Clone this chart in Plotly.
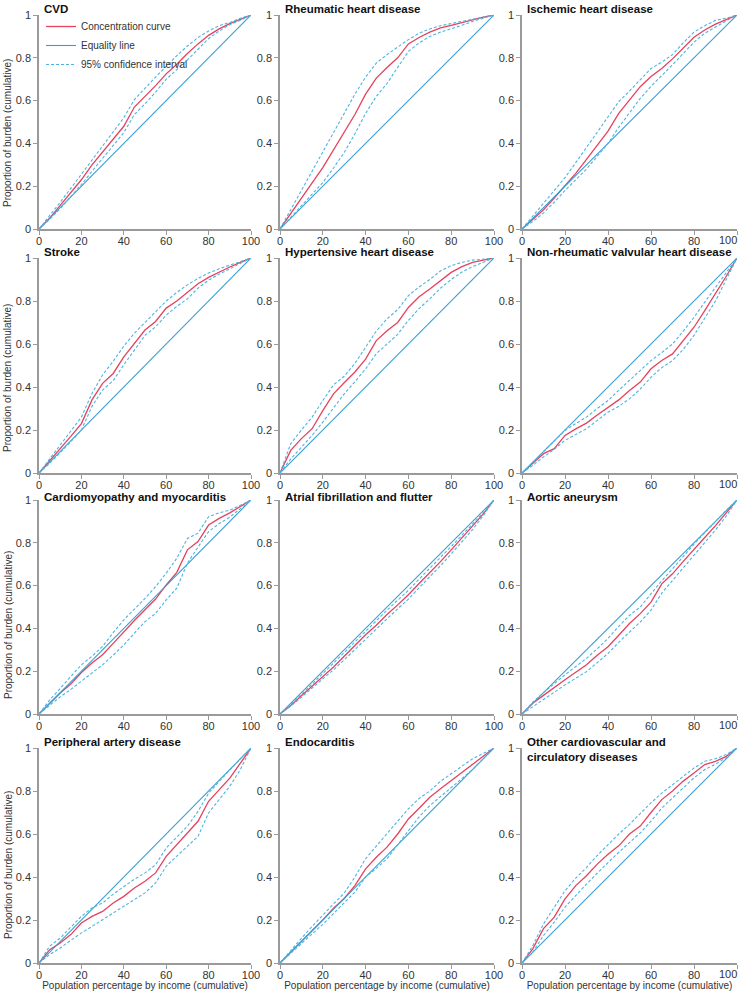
import plotly.graph_objects as go

# income percentile (x) shared by every panel
PCT = [0, 5, 10, 15, 20, 25, 30, 35, 40, 45, 50, 55, 60, 65, 70, 75, 80, 85, 90, 95, 100]
X_TICKS = [0, 20, 40, 60, 80, 100]

TITLES = ["CVD", "Rheumatic heart disease", "Ischemic heart disease",
          "Stroke", "Hypertensive heart disease", "Non-rheumatic valvular heart disease",
          "Cardiomyopathy and myocarditis", "Atrial fibrillation and flutter", "Aortic aneurysm",
          "Peripheral artery disease", "Endocarditis", "Other cardiovascular and<br>circulatory diseases"]

# concentration curve (cc) with upper (hi) / lower (lo) 95% CI
CVD_CC = [0, 0.05, 0.11, 0.17, 0.23, 0.30, 0.36, 0.42, 0.48, 0.57, 0.62, 0.67, 0.725, 0.77, 0.82, 0.865, 0.905, 0.935, 0.96, 0.98, 1]
CVD_HI = [0, 0.06, 0.125, 0.19, 0.255, 0.32, 0.39, 0.455, 0.52, 0.605, 0.66, 0.71, 0.76, 0.81, 0.855, 0.895, 0.925, 0.95, 0.965, 0.985, 1]
CVD_LO = [0, 0.045, 0.095, 0.15, 0.207, 0.27, 0.33, 0.39, 0.45, 0.535, 0.585, 0.64, 0.70, 0.745, 0.79, 0.84, 0.89, 0.925, 0.955, 0.975, 1]

RHD_CC = [0, 0.07, 0.14, 0.215, 0.287, 0.37, 0.45, 0.535, 0.63, 0.705, 0.755, 0.80, 0.865, 0.895, 0.92, 0.94, 0.952, 0.965, 0.978, 0.99, 1]
RHD_HI = [0, 0.09, 0.18, 0.27, 0.357, 0.45, 0.54, 0.63, 0.71, 0.775, 0.815, 0.85, 0.885, 0.915, 0.935, 0.95, 0.96, 0.97, 0.98, 0.99, 1]
RHD_LO = [0, 0.055, 0.11, 0.16, 0.217, 0.285, 0.357, 0.445, 0.54, 0.62, 0.68, 0.755, 0.83, 0.87, 0.9, 0.92, 0.935, 0.952, 0.97, 0.985, 1]

IHD_CC = [0, 0.045, 0.09, 0.145, 0.2, 0.26, 0.325, 0.39, 0.457, 0.54, 0.605, 0.665, 0.713, 0.75, 0.795, 0.845, 0.896, 0.93, 0.957, 0.978, 1]
IHD_HI = [0, 0.06, 0.115, 0.175, 0.24, 0.31, 0.38, 0.45, 0.52, 0.595, 0.645, 0.70, 0.75, 0.78, 0.815, 0.87, 0.92, 0.95, 0.975, 0.985, 1]
IHD_LO = [0, 0.035, 0.075, 0.125, 0.18, 0.23, 0.28, 0.34, 0.40, 0.475, 0.54, 0.61, 0.667, 0.715, 0.767, 0.82, 0.873, 0.915, 0.945, 0.972, 1]

STR_CC = [0, 0.055, 0.113, 0.17, 0.23, 0.34, 0.417, 0.463, 0.54, 0.60, 0.665, 0.705, 0.767, 0.80, 0.84, 0.88, 0.91, 0.935, 0.958, 0.98, 1]
STR_HI = [0, 0.065, 0.13, 0.195, 0.26, 0.37, 0.456, 0.52, 0.59, 0.65, 0.70, 0.75, 0.80, 0.84, 0.875, 0.905, 0.93, 0.95, 0.967, 0.985, 1]
STR_LO = [0, 0.045, 0.095, 0.145, 0.2, 0.31, 0.386, 0.43, 0.503, 0.57, 0.64, 0.68, 0.735, 0.775, 0.81, 0.86, 0.897, 0.925, 0.95, 0.975, 1]

HHD_CC = [0, 0.105, 0.16, 0.206, 0.29, 0.368, 0.42, 0.47, 0.53, 0.616, 0.662, 0.70, 0.77, 0.82, 0.856, 0.895, 0.933, 0.96, 0.98, 0.99, 1]
HHD_HI = [0, 0.136, 0.2, 0.26, 0.337, 0.41, 0.45, 0.51, 0.585, 0.66, 0.717, 0.76, 0.825, 0.865, 0.90, 0.94, 0.964, 0.98, 0.99, 0.995, 1]
HHD_LO = [0, 0.065, 0.12, 0.175, 0.237, 0.305, 0.368, 0.425, 0.484, 0.555, 0.60, 0.645, 0.71, 0.765, 0.81, 0.86, 0.90, 0.935, 0.96, 0.98, 1]

NRV_CC = [0, 0.045, 0.09, 0.113, 0.175, 0.205, 0.232, 0.27, 0.306, 0.34, 0.384, 0.423, 0.485, 0.523, 0.554, 0.616, 0.678, 0.755, 0.833, 0.915, 1]
NRV_HI = [0, 0.05, 0.1, 0.15, 0.198, 0.23, 0.26, 0.3, 0.337, 0.385, 0.43, 0.475, 0.523, 0.56, 0.60, 0.66, 0.724, 0.795, 0.864, 0.935, 1]
NRV_LO = [0, 0.035, 0.075, 0.11, 0.152, 0.18, 0.206, 0.245, 0.283, 0.31, 0.345, 0.39, 0.446, 0.49, 0.523, 0.575, 0.64, 0.72, 0.80, 0.9, 1]

CMM_CC = [0, 0.05, 0.098, 0.14, 0.194, 0.238, 0.277, 0.33, 0.386, 0.437, 0.487, 0.537, 0.603, 0.662, 0.767, 0.806, 0.883, 0.914, 0.94, 0.97, 1]
CMM_HI = [0, 0.065, 0.12, 0.175, 0.23, 0.27, 0.316, 0.38, 0.44, 0.49, 0.54, 0.595, 0.658, 0.728, 0.82, 0.845, 0.922, 0.94, 0.953, 0.975, 1]
CMM_LO = [0, 0.04, 0.08, 0.115, 0.152, 0.19, 0.23, 0.275, 0.323, 0.378, 0.432, 0.47, 0.533, 0.588, 0.705, 0.78, 0.852, 0.89, 0.92, 0.96, 1]

AFF_CC = [0, 0.04, 0.085, 0.13, 0.176, 0.22, 0.27, 0.32, 0.37, 0.415, 0.465, 0.51, 0.557, 0.61, 0.66, 0.712, 0.767, 0.822, 0.877, 0.935, 1]
AFF_HI = [0, 0.045, 0.092, 0.14, 0.188, 0.237, 0.287, 0.337, 0.387, 0.435, 0.485, 0.532, 0.578, 0.63, 0.68, 0.73, 0.783, 0.835, 0.888, 0.942, 1]
AFF_LO = [0, 0.036, 0.078, 0.12, 0.163, 0.207, 0.253, 0.302, 0.352, 0.397, 0.445, 0.49, 0.537, 0.59, 0.64, 0.693, 0.748, 0.805, 0.862, 0.927, 1]

AAN_CC = [0, 0.05, 0.087, 0.125, 0.16, 0.195, 0.23, 0.275, 0.314, 0.368, 0.423, 0.469, 0.523, 0.608, 0.655, 0.713, 0.771, 0.825, 0.88, 0.94, 1]
AAN_HI = [0, 0.055, 0.1, 0.143, 0.183, 0.222, 0.26, 0.305, 0.353, 0.41, 0.461, 0.5, 0.562, 0.623, 0.678, 0.737, 0.794, 0.847, 0.9, 0.952, 1]
AAN_LO = [0, 0.035, 0.07, 0.103, 0.136, 0.167, 0.198, 0.24, 0.283, 0.335, 0.384, 0.43, 0.485, 0.565, 0.624, 0.683, 0.74, 0.8, 0.86, 0.925, 1]

PAD_CC = [0, 0.062, 0.093, 0.132, 0.186, 0.217, 0.24, 0.279, 0.31, 0.349, 0.38, 0.419, 0.496, 0.55, 0.605, 0.659, 0.752, 0.806, 0.86, 0.93, 1]
PAD_HI = [0, 0.078, 0.116, 0.165, 0.217, 0.256, 0.279, 0.32, 0.357, 0.39, 0.419, 0.457, 0.535, 0.585, 0.636, 0.705, 0.79, 0.845, 0.9, 0.95, 1]
PAD_LO = [0, 0.039, 0.07, 0.105, 0.14, 0.17, 0.2, 0.23, 0.264, 0.295, 0.326, 0.372, 0.45, 0.497, 0.543, 0.589, 0.698, 0.76, 0.822, 0.9, 1]

END_CC = [0, 0.05, 0.1, 0.15, 0.2, 0.255, 0.3, 0.36, 0.438, 0.492, 0.539, 0.6, 0.67, 0.72, 0.771, 0.81, 0.848, 0.887, 0.926, 0.96, 1]
END_HI = [0, 0.06, 0.115, 0.17, 0.225, 0.275, 0.325, 0.4, 0.485, 0.545, 0.6, 0.66, 0.717, 0.765, 0.8, 0.845, 0.88, 0.915, 0.95, 0.975, 1]
END_LO = [0, 0.045, 0.09, 0.135, 0.18, 0.23, 0.28, 0.33, 0.4, 0.44, 0.485, 0.55, 0.616, 0.68, 0.732, 0.775, 0.817, 0.86, 0.9, 0.95, 1]

OTH_CC = [0, 0.066, 0.16, 0.213, 0.298, 0.36, 0.406, 0.46, 0.506, 0.545, 0.6, 0.637, 0.70, 0.76, 0.8, 0.846, 0.884, 0.923, 0.938, 0.961, 1]
OTH_HI = [0, 0.08, 0.182, 0.26, 0.336, 0.395, 0.444, 0.5, 0.552, 0.6, 0.645, 0.695, 0.745, 0.79, 0.83, 0.87, 0.907, 0.938, 0.95, 0.97, 1]
OTH_LO = [0, 0.05, 0.128, 0.19, 0.26, 0.315, 0.367, 0.418, 0.468, 0.515, 0.56, 0.605, 0.66, 0.72, 0.768, 0.815, 0.861, 0.9, 0.925, 0.955, 1]

EQ_X = [0, 100]
EQ_Y = [0, 1]

PANELS = [(CVD_CC, CVD_HI, CVD_LO), (RHD_CC, RHD_HI, RHD_LO), (IHD_CC, IHD_HI, IHD_LO),
          (STR_CC, STR_HI, STR_LO), (HHD_CC, HHD_HI, HHD_LO), (NRV_CC, NRV_HI, NRV_LO),
          (CMM_CC, CMM_HI, CMM_LO), (AFF_CC, AFF_HI, AFF_LO), (AAN_CC, AAN_HI, AAN_LO),
          (PAD_CC, PAD_HI, PAD_LO), (END_CC, END_HI, END_LO), (OTH_CC, OTH_HI, OTH_LO)]

W, H = 739, 991
FONT = "Liberation Sans, Arial, sans-serif"
RED = "#e5425e"
BLUE = "#3a9fd0"
CI_BLUE = "#4db4e2"
TICK_FONT = dict(family=FONT, size=11, color="#333333")

# pixel boxes of the panels
COL_PX = [(39, 251), (280, 494), (522, 737)]
ROW_PX = [(15, 229), (258, 473), (500, 714), (748, 963)]
YTITLE_MID = [133, 378, 625, 865]
TITLE_SHIFT = [14, 14, 11, 14]

fig = go.Figure()
annotations = []

for i, (cc, hi, lo) in enumerate(PANELS):
    r, c = divmod(i, 3)
    n = "" if i == 0 else str(i + 1)
    xa, ya = "x" + n, "y" + n
    first = i == 0

    fig.add_trace(go.Scatter(x=PCT, y=cc, mode="lines", name="Concentration curve",
                             line=dict(color=RED, width=1.3), xaxis=xa, yaxis=ya,
                             legendgroup="cc", showlegend=first))
    fig.add_trace(go.Scatter(x=EQ_X, y=EQ_Y, mode="lines", name="Equality line",
                             line=dict(color=BLUE, width=1.1), xaxis=xa, yaxis=ya,
                             legendgroup="eq", showlegend=first))
    fig.add_trace(go.Scatter(x=PCT, y=hi, mode="lines", name="95% confidence interval",
                             line=dict(color=CI_BLUE, width=1.1, dash="3px,2px"), xaxis=xa, yaxis=ya,
                             legendgroup="ci", showlegend=first))
    fig.add_trace(go.Scatter(x=PCT, y=lo, mode="lines", name="95% confidence interval",
                             line=dict(color=CI_BLUE, width=1.1, dash="3px,2px"), xaxis=xa, yaxis=ya,
                             legendgroup="ci", showlegend=False))

    x0, x1 = COL_PX[c]
    y0, y1 = ROW_PX[r]
    axis_common = dict(showline=True, linecolor="#9a9a9a", linewidth=1.5, ticks="outside",
                       ticklen=4, tickwidth=1, tickcolor="#9a9a9a", showgrid=False,
                       zeroline=False, tickfont=TICK_FONT,
                       automargin=False, ticklabeloverflow="allow")
    xt_text = [str(v) for v in X_TICKS]
    if c == 2:
        # right column: "100" is set right-aligned at the page edge instead
        xt_text[-1] = ""
        annotations.append(dict(text=str(X_TICKS[-1]), xref=xa, yref="paper",
                                x=X_TICKS[-1], y=1 - y1 / H, xanchor="right", yanchor="top",
                                xshift=2, yshift=-3, showarrow=False, font=TICK_FONT))
    fig.layout["xaxis" + n] = dict(axis_common, domain=[x0 / W, x1 / W], range=[0, 100],
                                   tickvals=X_TICKS, ticktext=xt_text, anchor=ya, ticklabelstandoff=-3,
                                   title=dict(text="Population percentage by income (cumulative)" if r == 3 else "",
                                              font=dict(family=FONT, size=10, color="#333333"), standoff=2))
    fig.layout["yaxis" + n] = dict(axis_common, domain=[1 - y1 / H, 1 - y0 / H], range=[0, 1],
                                   dtick=0.2, anchor=xa)

    annotations.append(dict(text="<b>" + TITLES[i] + "</b>", xref="paper", yref="paper",
                            x=x0 / W, y=1 - y0 / H, xanchor="left", yanchor="top", align="left",
                            xshift=3, yshift=TITLE_SHIFT[r], showarrow=False,
                            font=dict(family=FONT, size=11.5, color="#111111")))
    if c == 0:
        annotations.append(dict(text="Proportion of burden (cumulative)", xref="paper", yref="paper",
                                x=8 / W, y=1 - YTITLE_MID[r] / H, xanchor="center", yanchor="middle",
                                textangle=-90, showarrow=False,
                                font=dict(family=FONT, size=10, color="#333333")))

fig.update_layout(
    width=W, height=H,
    margin=dict(l=0, r=0, t=0, b=0),
    paper_bgcolor="white", plot_bgcolor="white",
    annotations=annotations,
    showlegend=True,
    legend=dict(x=41 / W, y=1 - 12 / H, xanchor="left", yanchor="top", bgcolor="rgba(0,0,0,0)",
                font=dict(family=FONT, size=10, color="#333333"), itemwidth=30,
                tracegroupgap=0),
)

# drop the browser's default body margin so the figure fills the window
fig.write_html("out.html", config={"displayModeBar": False},
               post_script="document.body.style.margin='0';")
